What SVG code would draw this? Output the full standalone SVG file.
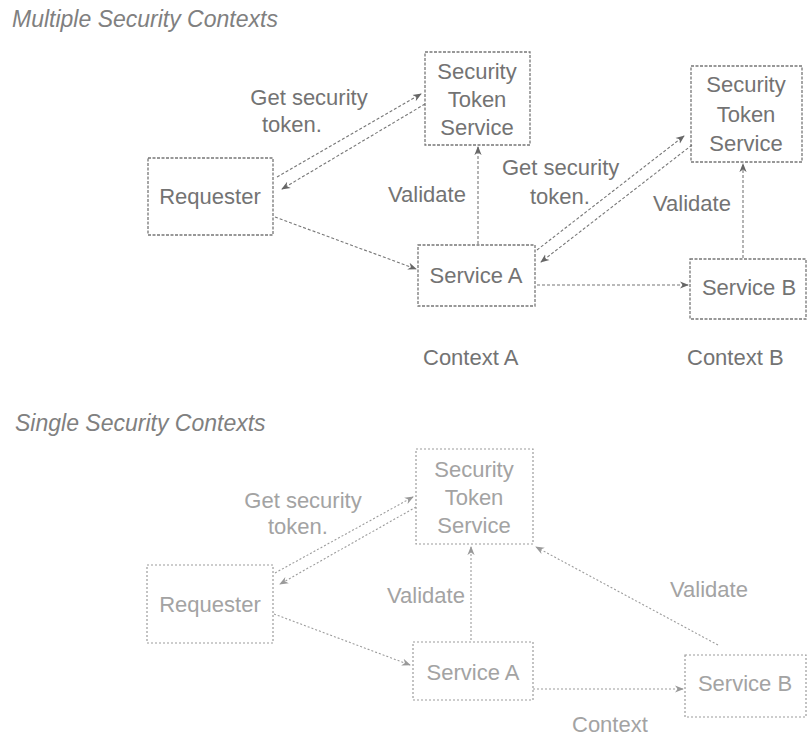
<svg xmlns="http://www.w3.org/2000/svg" width="807" height="740" viewBox="0 0 807 740">
  <defs>
    <marker id="arr" viewBox="0 0 10 10" refX="9" refY="5" markerWidth="9" markerHeight="9" orient="auto-start-reverse" markerUnits="userSpaceOnUse">
      <path d="M0,1 L10,5 L0,9 L3,5 Z" fill="#666"/>
    </marker>
    <marker id="arrL" viewBox="0 0 10 10" refX="9" refY="5" markerWidth="9" markerHeight="9" orient="auto-start-reverse" markerUnits="userSpaceOnUse">
      <path d="M0,1 L10,5 L0,9 L3,5 Z" fill="#999"/>
    </marker>
  </defs>
  <style>
    text { font-family: "Liberation Sans", Arial, sans-serif; font-size: 22px; }
    .title { font-style: italic; fill: #808080; font-size: 23px; }
    .t1 { fill: #737373; }
    .t2 { fill: #a3a3a3; }
    .box1 { fill: none; stroke: #777; stroke-width: 1.3; stroke-dasharray: 3 1.5; }
    .box2 { fill: none; stroke: #9c9c9c; stroke-width: 1.2; stroke-dasharray: 2 2; }
    .c1 { fill: none; stroke: #777; stroke-width: 1.1; stroke-dasharray: 3 2; marker-end: url(#arr); }
    .c2 { fill: none; stroke: #9c9c9c; stroke-width: 1.1; stroke-dasharray: 2 2; marker-end: url(#arrL); }
    .mid { text-anchor: middle; }
  </style>
  <rect width="807" height="740" fill="#ffffff"/>

  <!-- Upper panel: each service has its own security context -->
  <text class="title" x="12" y="27">Multiple Security Contexts</text>

  <g id="connectors-multi">
    <line class="c1" x1="277" y1="177" x2="421" y2="94"/>
    <line class="c1" x1="425" y1="104" x2="282" y2="189"/>
    <line class="c1" x1="275" y1="217" x2="416" y2="269"/>
    <line class="c1" x1="478" y1="244" x2="478" y2="147"/>
    <line class="c1" x1="537" y1="250" x2="684" y2="136"/>
    <line class="c1" x1="692" y1="145" x2="541" y2="262"/>
    <line class="c1" x1="537" y1="285" x2="688" y2="285"/>
    <line class="c1" x1="743" y1="258" x2="743" y2="164"/>
  </g>

  <g id="m-requester">
    <rect class="box1" x="148" y="158" width="125" height="77"/>
    <text class="t1 mid" x="210" y="204">Requester</text>
  </g>
  <g id="m-sts-a">
    <rect class="box1" x="425" y="52" width="105" height="93"/>
    <text class="t1 mid" x="477" y="79">Security</text>
    <text class="t1 mid" x="477" y="107">Token</text>
    <text class="t1 mid" x="477" y="135">Service</text>
  </g>
  <g id="m-sts-b">
    <rect class="box1" x="691" y="66" width="111" height="96"/>
    <text class="t1 mid" x="746" y="92">Security</text>
    <text class="t1 mid" x="746" y="122">Token</text>
    <text class="t1 mid" x="746" y="151">Service</text>
  </g>
  <g id="m-service-a">
    <rect class="box1" x="418" y="245" width="117" height="61"/>
    <text class="t1 mid" x="476" y="283">Service A</text>
  </g>
  <g id="m-service-b">
    <rect class="box1" x="690" y="259" width="116" height="60"/>
    <text class="t1 mid" x="749" y="295">Service B</text>
  </g>

  <g id="m-labels">
    <text class="t1 mid" x="309" y="105">Get security</text>
    <text class="t1" x="262" y="132">token.</text>
    <text class="t1" x="388" y="202">Validate</text>
    <text class="t1" x="502" y="175">Get security</text>
    <text class="t1" x="530" y="204">token.</text>
    <text class="t1" x="653" y="211">Validate</text>
    <text class="t1" x="423" y="365">Context A</text>
    <text class="t1" x="687" y="365">Context B</text>
  </g>

  <!-- Lower panel: one shared security context -->
  <text class="title" x="15" y="431">Single Security Contexts</text>

  <g id="connectors-single">
    <line class="c2" x1="275" y1="573" x2="413" y2="497"/>
    <line class="c2" x1="416" y1="507" x2="280" y2="584"/>
    <line class="c2" x1="274" y1="614" x2="410" y2="665"/>
    <line class="c2" x1="471" y1="640" x2="471" y2="547"/>
    <line class="c2" x1="718" y1="645" x2="536" y2="547"/>
    <line class="c2" x1="533" y1="689" x2="683" y2="689"/>
  </g>

  <g id="s-requester">
    <rect class="box2" x="147" y="565" width="126" height="78"/>
    <text class="t2 mid" x="210" y="612">Requester</text>
  </g>
  <g id="s-sts">
    <rect class="box2" x="416" y="449" width="117" height="95"/>
    <text class="t2 mid" x="474" y="477">Security</text>
    <text class="t2 mid" x="474" y="505">Token</text>
    <text class="t2 mid" x="474" y="533">Service</text>
  </g>
  <g id="s-service-a">
    <rect class="box2" x="413" y="642" width="120" height="58"/>
    <text class="t2 mid" x="473" y="680">Service A</text>
  </g>
  <g id="s-service-b">
    <rect class="box2" x="685" y="655" width="121" height="62"/>
    <text class="t2 mid" x="745" y="691">Service B</text>
  </g>

  <g id="s-labels">
    <text class="t2 mid" x="303" y="508">Get security</text>
    <text class="t2" x="268" y="534">token.</text>
    <text class="t2" x="387" y="603">Validate</text>
    <text class="t2" x="670" y="597">Validate</text>
    <text class="t2" x="572" y="732">Context</text>
  </g>
</svg>
